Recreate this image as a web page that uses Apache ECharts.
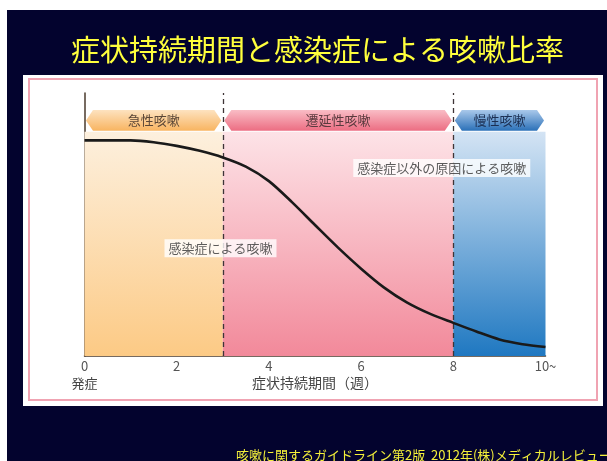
<!DOCTYPE html>
<html>
<head>
<meta charset="UTF-8">
<title>症状持続期間と感染症による咳嗽比率</title>
<script src="https://cdn.jsdelivr.net/npm/echarts@6/dist/echarts.min.js"></script>
<style>
  html, body { margin: 0; padding: 0; background: #fff; }
  #chart { width: 607px; height: 461px; }
</style>
</head>
<body>
<div id="chart"></div>
<script>
// 症状持続期間（週）と咳嗽の割合（相対値）
var weeks = [0, 0.5, 1, 1.5, 2, 2.5, 3, 3.5, 4, 4.5, 5, 5.5, 6, 6.5, 7, 7.5, 8, 8.5, 9, 9.5, 10];
var ratio = [82, 82, 82, 81.3, 79.9, 78, 75.5, 72, 66.5, 58.5, 49.8, 41.2, 33.2, 26, 20.3, 16, 12.6, 9.3, 6.3, 4.5, 3.4];

// 区分（開始週, 終了週, 名称）
var phaseStart = [0, 3, 8];
var phaseEnd = [3, 8, 10];
var phaseNames = ['急性咳嗽', '遷延性咳嗽', '慢性咳嗽'];
var dividers = [3, 8];

// 注記
var notes = [
  [2.95, 41, '感染症による咳嗽'],
  [7.75, 71.5, '感染症以外の原因による咳嗽']
];

var xTicks = [0, 2, 4, 6, 8, 10];

var font = '"Noto Sans CJK JP", "Noto Sans", sans-serif';

function grad(top, bottom) {
  return new echarts.graphic.LinearGradient(0, 0, 0, 1, [
    { offset: 0, color: top },
    { offset: 1, color: bottom }
  ]);
}

var areaColors = [
  grad('#fdf0de', '#fcca85'),
  grad('#fde3e7', '#f2899a'),
  grad('#d4e4f4', '#1f78c1')
];
var arrowColors = [
  grad('#fde2bf', '#f8b460'),
  grad('#f9bcc5', '#ec6d82'),
  grad('#a9c8ea', '#2a70b8')
];
var arrowText = ['#5a4636', '#5a3a3e', '#1c2f52'];

var chart = echarts.init(document.getElementById('chart'));

var option = {
  backgroundColor: '#ffffff',
  textStyle: { fontFamily: font },
  animation: false,
  title: {
    text: '症状持続期間と感染症による咳嗽比率',
    left: 66,
    top: 30,
    textStyle: { color: '#ffff3c', fontSize: 29, fontWeight: 'normal', fontFamily: font }
  },
  graphic: [
    { type: 'rect', z: -10, shape: { x: 7, y: 10, width: 600, height: 451 }, style: { fill: '#03032e' } },
    { type: 'rect', z: -9, shape: { x: 23, y: 75, width: 580, height: 331 }, style: { fill: '#ffffff' } },
    { type: 'rect', z: -8, shape: { x: 29, y: 79, width: 568, height: 321 }, style: { fill: '#ffffff', stroke: '#f0a3b2', lineWidth: 2 } },
    {
      type: 'text', z: -7, left: 236, top: 449,
      style: { text: '咳嗽に関するガイドライン第2版  2012年(株)メディカルレビュー社', fill: '#f4f03a', fontSize: 13, fontFamily: font }
    }
  ],
  grid: { left: 84.5, right: 61.5, top: 93, bottom: 105 },
  xAxis: {
    type: 'value',
    min: 0,
    max: 10,
    interval: 2,
    name: '症状持続期間（週）',
    nameLocation: 'middle',
    nameGap: 20,
    nameMoveOverlap: false,
    nameTextStyle: { color: '#444', fontSize: 14, fontFamily: font },
    axisLine: { show: true, lineStyle: { color: '#4a3a2c', width: 1.5 } },
    axisTick: { show: false },
    splitLine: { show: false },
    axisLabel: {
      margin: 4,
      color: '#555',
      fontSize: 13,
      formatter: function (v) {
        if (xTicks.indexOf(v) < 0) return '';
        if (v === 0) return '0\n{s|発症}';
        if (v === 10) return '10~';
        return String(v);
      },
      rich: { s: { color: '#444', fontSize: 13, lineHeight: 20, fontFamily: font } }
    }
  },
  yAxis: {
    type: 'value',
    min: 0,
    max: 100,
    axisLine: { show: true, lineStyle: { color: '#4a3a2c', width: 1.5 } },
    axisTick: { show: false },
    axisLabel: { show: false },
    splitLine: { show: false }
  },
  series: [
    {
      type: 'line',
      data: weeks.map(function (w, i) { return [w, ratio[i]]; }),
      smooth: 0.3,
      showSymbol: false,
      z: 5,
      lineStyle: { color: '#1a1a1a', width: 2.6 },
      markArea: {
        silent: true,
        z: 1,
        data: phaseStart.map(function (s, i) {
          return [
            { xAxis: s, yAxis: 0, itemStyle: { color: areaColors[i] } },
            { xAxis: phaseEnd[i], yAxis: 85.3 }
          ];
        })
      },
      markLine: {
        silent: true,
        symbol: 'none',
        label: { show: false },
        lineStyle: { color: '#3e3436', type: [5, 4], width: 1.3 },
        data: dividers.map(function (d) { return { xAxis: d }; })
      }
    },
    {
      type: 'custom',
      z: 4,
      data: phaseStart.map(function (s, i) { return [s, phaseEnd[i], i]; }),
      renderItem: function (params, api) {
        var i = api.value(2);
        var a = api.coord([api.value(0), 93.5]);
        var b = api.coord([api.value(1), 85.6]);
        var x0 = a[0] + 1.5, x1 = b[0] - 1.5;
        var y0 = a[1], y1 = b[1], ym = (y0 + y1) / 2, h = 7;
        return {
          type: 'group',
          children: [
            {
              type: 'polygon',
              shape: { points: [[x0, ym], [x0 + h, y0], [x1 - h, y0], [x1, ym], [x1 - h, y1], [x0 + h, y1]] },
              style: { fill: arrowColors[i] }
            },
            {
              type: 'text',
              style: {
                text: phaseNames[i], x: (x0 + x1) / 2, y: ym,
                align: 'center', verticalAlign: 'middle',
                fill: arrowText[i], fontSize: 13, fontFamily: font
              }
            }
          ]
        };
      }
    },
    {
      type: 'scatter',
      z: 6,
      symbolSize: 0,
      data: notes,
      label: {
        show: true,
        position: 'inside',
        formatter: function (p) { return p.data[2]; },
        backgroundColor: '#ffffff',
        padding: [3, 4, 2, 4],
        color: '#333',
        fontSize: 13,
        fontFamily: font
      }
    }
  ]
};

chart.setOption(option);
</script>
</body>
</html>
